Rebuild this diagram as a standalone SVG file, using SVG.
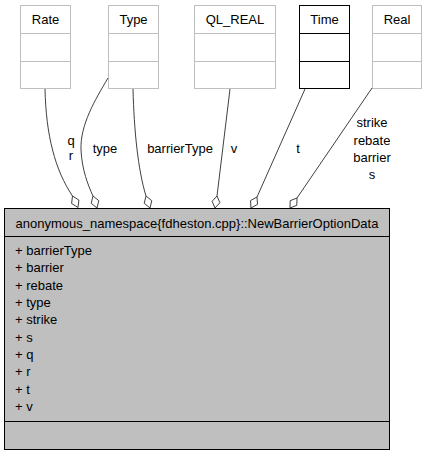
<svg xmlns="http://www.w3.org/2000/svg" width="427" height="456" viewBox="0 0 427 456">
<style>
text{font-family:"Liberation Sans",Arial,sans-serif;font-size:13px;fill:#000}
.c{text-anchor:middle}
.gb{fill:#fff;stroke:#bfbfbf;stroke-width:1}
.bb{fill:#fff;stroke:#000;stroke-width:1}
.edge{fill:none;stroke:#404040;stroke-width:1}
.dia{fill:#fff;stroke:#404040;stroke-width:1}
.main{fill:#bfbfbf;stroke:#000;stroke-width:1}
</style>
<rect width="427" height="456" fill="#fff"/>
<g id="Rate">
<rect class="gb" x="20.5" y="5.5" width="50" height="83"/>
<line class="gb" x1="20.5" y1="33.5" x2="70.5" y2="33.5"/>
<line class="gb" x1="20.5" y1="61.5" x2="70.5" y2="61.5"/>
<text class="c" x="45.5" y="24">Rate</text>
</g>
<g id="Type">
<rect class="gb" x="108.5" y="5.5" width="50" height="83"/>
<line class="gb" x1="108.5" y1="33.5" x2="158.5" y2="33.5"/>
<line class="gb" x1="108.5" y1="61.5" x2="158.5" y2="61.5"/>
<text class="c" x="133.5" y="24">Type</text>
</g>
<g id="QL_REAL">
<rect class="gb" x="194.5" y="5.5" width="81" height="83"/>
<line class="gb" x1="194.5" y1="33.5" x2="275.5" y2="33.5"/>
<line class="gb" x1="194.5" y1="61.5" x2="275.5" y2="61.5"/>
<text class="c" x="235" y="24">QL_REAL</text>
</g>
<g id="Time">
<rect class="bb" x="299.5" y="5.5" width="50" height="83"/>
<line class="bb" x1="299.5" y1="33.5" x2="349.5" y2="33.5"/>
<line class="bb" x1="299.5" y1="61.5" x2="349.5" y2="61.5"/>
<text class="c" x="324.5" y="24">Time</text>
</g>
<g id="Real">
<rect class="gb" x="372.5" y="5.5" width="49" height="83"/>
<line class="gb" x1="372.5" y1="33.5" x2="421.5" y2="33.5"/>
<line class="gb" x1="372.5" y1="61.5" x2="421.5" y2="61.5"/>
<text class="c" x="397" y="24">Real</text>
</g>
<g id="connectors">
<path class="edge" d="M45,89 C46,135 55,170 72.5,196"/>
<polygon class="dia" points="72.5,196 78.9,200 78,207.5 71.6,203.5"/>
<text class="c" x="71" y="145">q</text>
<text class="c" x="71" y="160">r</text>
<path class="edge" d="M108,78 C95,100 80,125 81,150 C82,170 88,185 93,196"/>
<polygon class="dia" points="93,196 98.8,200.7 97,208 91.2,203.3"/>
<text class="c" x="105" y="153">type</text>
<path class="edge" d="M133,89 C134,130 138,170 146,196"/>
<polygon class="dia" points="146,196 151.8,200.7 150,208 144.2,203.3"/>
<text class="c" x="180" y="153">barrierType</text>
<path class="edge" d="M230,89 L217,196"/>
<polygon class="dia" points="217,196 219.9,202.7 215,208 212.1,201.3"/>
<text class="c" x="234" y="153">v</text>
<path class="edge" d="M305,89 L257,197"/>
<polygon class="dia" points="257,197 257.5,204.4 251,208 250.5,200.6"/>
<text class="c" x="298" y="153">t</text>
<path class="edge" d="M372,88 L297,198"/>
<polygon class="dia" points="297,198 296.8,205.3 290,208 290.2,200.7"/>
<text class="c" x="372" y="127">strike</text>
<text class="c" x="372" y="145">rebate</text>
<text class="c" x="372" y="162">barrier</text>
<text class="c" x="372" y="179">s</text>
</g>
<g id="NewBarrierOptionData">
<rect class="main" x="4.5" y="208.5" width="385" height="241"/>
<line class="main" x1="4.5" y1="236.5" x2="389.5" y2="236.5"/>
<line class="main" x1="4.5" y1="421.5" x2="389.5" y2="421.5"/>
<text class="c" x="197" y="228">anonymous_namespace{fdheston.cpp}::NewBarrierOptionData</text>
<text x="15" y="255">+ barrierType</text>
<text x="15" y="272">+ barrier</text>
<text x="15" y="289.5">+ rebate</text>
<text x="15" y="307">+ type</text>
<text x="15" y="324">+ strike</text>
<text x="15" y="341.5">+ s</text>
<text x="15" y="359">+ q</text>
<text x="15" y="376">+ r</text>
<text x="15" y="393.5">+ t</text>
<text x="15" y="411">+ v</text>
</g>
</svg>
